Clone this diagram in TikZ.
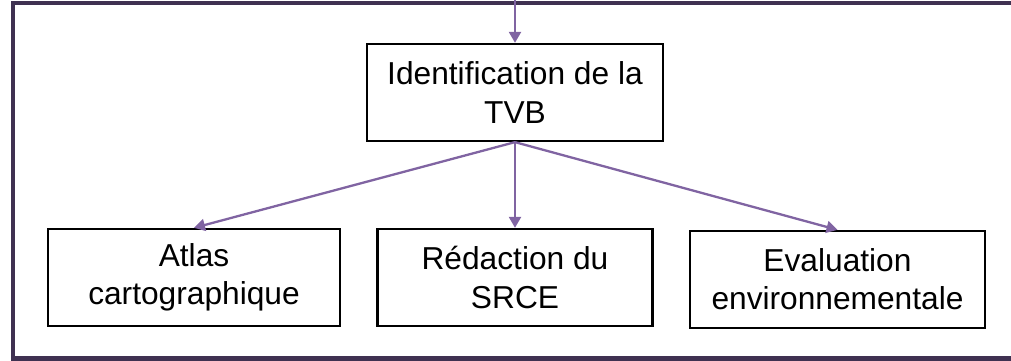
\documentclass[tikz,border=0pt]{standalone}
\usepackage{fontspec}
\setmainfont{Liberation Sans}
\usetikzlibrary{arrows.meta}
\definecolor{arrowpurple}{HTML}{8064A2}
\definecolor{framepurple}{HTML}{3F3151}
\tikzset{
  box/.style={draw=black, line width=2.3pt, fill=white, minimum height=97pt, align=center, inner sep=0pt,
    font=\fontsize{31.7}{38.3}\selectfont},
  link/.style={draw=arrowpurple, line width=2.3pt, -{Triangle[length=11pt,width=12pt]}}
}
\begin{document}
\begin{tikzpicture}[x=1pt,y=-1pt]
\useasboundingbox (0,0) rectangle (1011,361);
\draw[framepurple, line width=4.5pt] (1030,3) -- (13,3) -- (13,358.5) -- (1030,358.5);
\coordinate (in) at (515,-5);
\node[box, minimum width=296pt] (tvb) at (515,92.5) {Identification de la\\TVB};
\node[box, minimum width=292pt] (atlas) at (194,277.5) {Atlas\\cartographique};
\node[box, minimum width=275pt] (srce) at (515,277.5) {Rédaction du\\SRCE};
\node[box, minimum width=295pt] (eval) at (837.5,279.5) {Evaluation\\environnementale};
\draw[link] (in) -- (tvb.north);
\draw[link] (tvb.south) -- (atlas.north);
\draw[link] (tvb.south) -- (srce.north);
\draw[link] (tvb.south) -- (eval.north);
\end{tikzpicture}
\end{document}
